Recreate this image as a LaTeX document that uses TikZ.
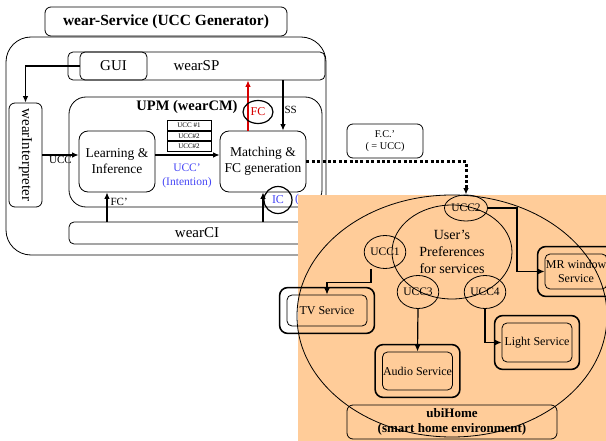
\documentclass[tikz,border=0pt]{standalone}
\usepackage{fontspec}
\setmainfont{Liberation Serif}
\usepackage{tikz}
\usetikzlibrary{shapes.geometric,fit,positioning,arrows.meta}
\definecolor{ubiorange}{RGB}{255,204,153}
\definecolor{ccblue}{RGB}{70,70,245}
\definecolor{fcred}{RGB}{215,0,0}
\tikzset{every picture/.style={x=1pt,y=-1pt,line width=0.8pt,>={Latex[length=6.5pt,width=5.5pt]}}}
\tikzset{
  blk/.style={draw, rounded corners=6pt, align=center, inner sep=1pt, font=\fontsize{15}{17}\selectfont},
  part/.style={draw, rounded corners=9pt, align=center, inner sep=1pt, font=\fontsize{13.5}{16}\selectfont},
  frame/.style={draw, inner sep=0pt},
  tag/.style={inner sep=1pt, font=\fontsize{11}{13}\selectfont},
  lst/.style={draw, line width=0.9pt, inner sep=0pt, minimum width=44pt, minimum height=9.7pt, font=\fontsize{7}{8}\selectfont},
  ucc/.style={draw, ellipse, inner sep=0pt, font=\fontsize{11.5}{13}\selectfont},
  svc/.style={draw, rounded corners=5pt, align=center, inner sep=0.5pt, font=\fontsize{12}{14}\selectfont},
  svcout/.style={draw, rounded corners=8pt, line width=1.6pt, inner sep=7pt},
  flow/.style={->, line width=1.2pt}
}

\begin{document}
\begin{tikzpicture}
    \useasboundingbox (0,0) rectangle (606,441);
    % wear-Service side
    \node[frame, rounded corners=25pt, minimum width=320pt, minimum height=218pt] (outer) at (166,146) {};
    \node[blk, font=\fontsize{15.5}{17}\bfseries, minimum width=242pt, minimum height=29pt] (title) at (166,21.5) {wear-Service (UCC Generator)};
    \node[blk, rounded corners=5pt, minimum width=257pt, minimum height=28pt] (sp) at (196.5,66) {wearSP};
    \node[blk, rounded corners=5pt, minimum width=67pt, minimum height=28pt] (gui) at (113.5,66) {GUI};
    \node[blk, minimum width=33pt, minimum height=104pt] (interp) at (25.5,155) {\rotatebox{-90}{wearInterpreter}};
    \node[frame, rounded corners=17pt, minimum width=253pt, minimum height=110pt] (upm) at (195.5,152) {};
    \node[font=\fontsize{14.5}{16}\bfseries] (upmtitle) at (187,107) {UPM (wearCM)};
    \node[part, minimum width=76pt, minimum height=61pt] (learn) at (117,161.5) {Learning \&\\Inference};
    \node[part, minimum width=86pt, minimum height=61pt] (match) at (263,161.5) {Matching \&\\FC generation};
    \node[lst] (ucca) at (189,125.5) {UCC \#1};
    \node[lst, below=0pt of ucca] (uccb) {UCC\#2};
    \node[lst, below=0pt of uccb] (uccc) {UCC\#2};
    \node[tag, text=ccblue, align=center, font=\fontsize{11.5}{14}\selectfont] (intent) at (187,176) {UCC'\\(Intention)};
    \node[blk, rounded corners=5pt, minimum width=256pt, minimum height=22pt] (ci) at (197,233) {wearCI};

    \draw[flow] (gui.west) -| (interp.north);
    \draw[flow] (interp.east) -- (interp.east -| learn.west) node[tag, midway, below] {UCC};
    \draw[flow] (learn.east |- interp.east) -- (match.west |- interp.east);
    \draw[flow] ([xshift=20pt]match.north |- sp.south) -- ([xshift=20pt]match.north) node[tag, midway, right, yshift=-4pt] {SS};
    \draw[flow, fcred] ([xshift=-15pt]match.north) -- ([xshift=-15pt]match.north |- sp.south);
    \node[ucc, line width=1.2pt, text=fcred, minimum width=30pt, minimum height=23pt, font=\fontsize{12}{14}\selectfont] (fc) at (258,112) {FC};
    \draw[flow] ([xshift=-10pt]learn.south |- ci.north) -- ([xshift=-10pt]learn.south) node[tag, midway, right, xshift=2pt, yshift=5pt] {FC'};
    \draw[flow] (match.south |- ci.north) -- (match.south);
    \node[ucc, line width=1.2pt, text=ccblue, minimum width=28pt, minimum height=27pt, font=\fontsize{12}{14}\selectfont] (ic) at (278,200) {IC};
    \node[tag, text=ccblue, font=\fontsize{12}{14}\selectfont] (icnote) at (297,200) {(};

    \node[blk, rounded corners=6pt, minimum width=76pt, minimum height=34pt, font=\fontsize{10.3}{12.5}\selectfont] (fcbox) at (385,141) {F.C.'\\( = UCC)};

    % ubiHome side
    \fill[ubiorange] (298,195) rectangle (606,441);
    \draw (452,316) ellipse [x radius=155, y radius=121];
    \node[ucc, minimum width=120pt, minimum height=94pt, align=center, font=\fontsize{14}{17}\selectfont] (pref) at (452,252) {User's\\Preferences\\for services};
    \node[ucc, minimum width=43pt, minimum height=26pt] (ucc2) at (466,208) {UCC2};
    \node[ucc, minimum width=40pt, minimum height=33pt] (ucc1) at (385,252) {UCC1};
    \node[ucc, minimum width=40pt, minimum height=33pt] (ucc3) at (418,292) {UCC3};
    \node[ucc, minimum width=36pt, minimum height=33pt] (ucc4) at (485,292) {UCC4};

    \node[svc, minimum width=80pt, minimum height=31pt] (tv) at (327,310.5) {TV Service};
    \node[svcout, fit=(tv)] (tvout) {};
    \node[svc, minimum width=69pt, minimum height=38pt] (audio) at (417.5,371) {Audio Service};
    \node[svcout, fit=(audio)] (audioout) {};
    \node[svc, minimum width=70pt, minimum height=39pt] (light) at (537,342.5) {Light Service};
    \node[svcout, fit=(light)] (lightout) {};
    \node[svc, minimum width=62pt, minimum height=35pt] (mr) at (576,271.5) {MR window\\Service};
    \node[svcout, fit=(mr)] (mrout) {};
    \node[blk, font=\fontsize{13}{15.5}\bfseries, minimum width=210pt, minimum height=34pt] (ubi) at (452,422) {ubiHome\\(smart home environment)};

    \draw[flow] ([xshift=-14pt]ucc1.south) -- ++(0,14) -| (tv.north);
    \draw[flow] (ucc3.south) -- (audio.north);
    \draw[flow] (ucc4.south) |- (light.west);
    \draw[flow] (ucc2.east) -- ++(29,0) |- (mr.west);
    \draw[->, line width=3pt, dash pattern=on 3pt off 2.4pt] (match.east) -| (ucc2.north);
\end{tikzpicture}
\end{document}
